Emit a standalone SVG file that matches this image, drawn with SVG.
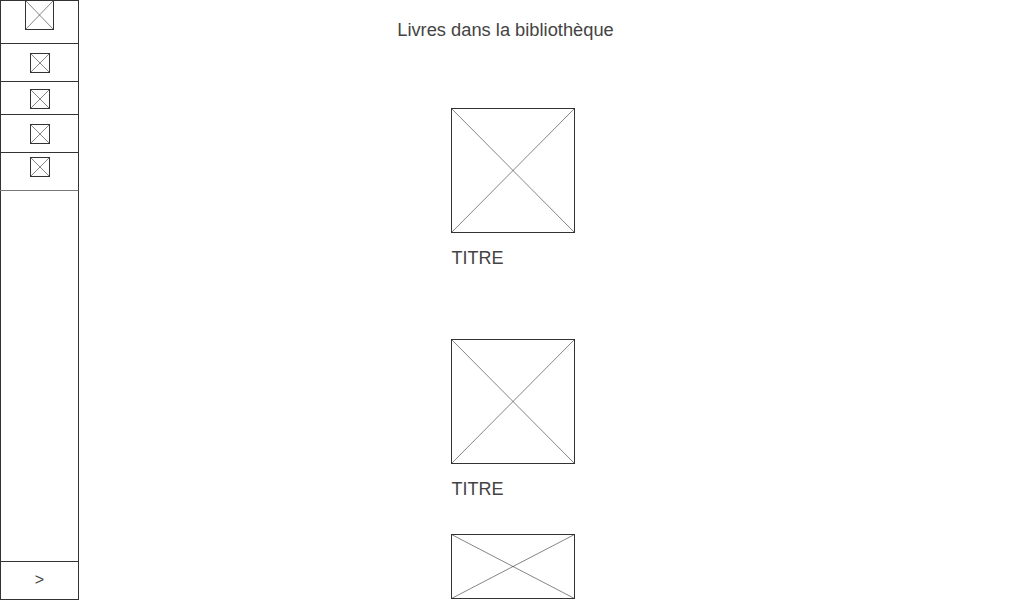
<svg xmlns="http://www.w3.org/2000/svg" width="1024" height="600" viewBox="0 0 1024 600">
<style>
.frame{fill:#fff;stroke:#333;stroke-width:1}
.x{stroke:#333;stroke-width:0.6}
.div{stroke:#333;stroke-width:1}
.t{font-family:"Liberation Sans",Arial,sans-serif;fill:#444}
</style>
<rect width="1024" height="600" fill="#fff"/>
<g id="sidebar">
<rect class="frame" x="0.5" y="0.5" width="78" height="599"/>
<line class="div" x1="0" y1="43.5" x2="78.5" y2="43.5"/>
<line class="div" x1="0" y1="81.5" x2="78.5" y2="81.5"/>
<line class="div" x1="0" y1="114.5" x2="78.5" y2="114.5"/>
<line class="div" x1="0" y1="152.5" x2="78.5" y2="152.5"/>
<line x1="0" y1="190.5" x2="78.5" y2="190.5" stroke="#777" stroke-width="1"/>
<line class="div" x1="0" y1="561.5" x2="78.5" y2="561.5"/>
</g>
<g id="logo">
<rect class="frame" x="25.5" y="0.5" width="28" height="29"/>
<path class="x" d="M25.5 0.5L53.5 29.5M53.5 0.5L25.5 29.5" stroke="#888"/>
</g>
<g id="icon1">
<rect class="frame" x="30.5" y="53.5" width="19" height="19"/>
<path class="x" d="M30.5 53.5L49.5 72.5M49.5 53.5L30.5 72.5"/>
</g>
<g id="icon2">
<rect class="frame" x="30.5" y="89.5" width="19" height="19"/>
<path class="x" d="M30.5 89.5L49.5 108.5M49.5 89.5L30.5 108.5"/>
</g>
<g id="icon3">
<rect class="frame" x="30.5" y="124.5" width="19" height="19"/>
<path class="x" d="M30.5 124.5L49.5 143.5M49.5 124.5L30.5 143.5"/>
</g>
<g id="icon4">
<rect class="frame" x="30.5" y="157.5" width="19" height="19"/>
<path class="x" d="M30.5 157.5L49.5 176.5M49.5 157.5L30.5 176.5"/>
</g>
<g id="next">
<text class="t" x="39.5" y="585" font-size="16" text-anchor="middle">&gt;</text>
</g>
<g id="title">
<text class="t" x="505.5" y="36" font-size="18.3" text-anchor="middle">Livres dans la bibliothèque</text>
</g>
<g id="book1">
<rect class="frame" x="451.5" y="108.5" width="123" height="124"/>
<path class="x" d="M451.5 108.5L574.5 232.5M574.5 108.5L451.5 232.5"/>
<text class="t" x="451.5" y="264" font-size="18">TITRE</text>
</g>
<g id="book2">
<rect class="frame" x="451.5" y="339.5" width="123" height="124"/>
<path class="x" d="M451.5 339.5L574.5 463.5M574.5 339.5L451.5 463.5"/>
<text class="t" x="451.5" y="495" font-size="18">TITRE</text>
</g>
<g id="book3">
<rect class="frame" x="451.5" y="534.5" width="123" height="64"/>
<path class="x" d="M451.5 534.5L574.5 598.5M574.5 534.5L451.5 598.5"/>
</g>
<g id="connectors"></g>
</svg>
